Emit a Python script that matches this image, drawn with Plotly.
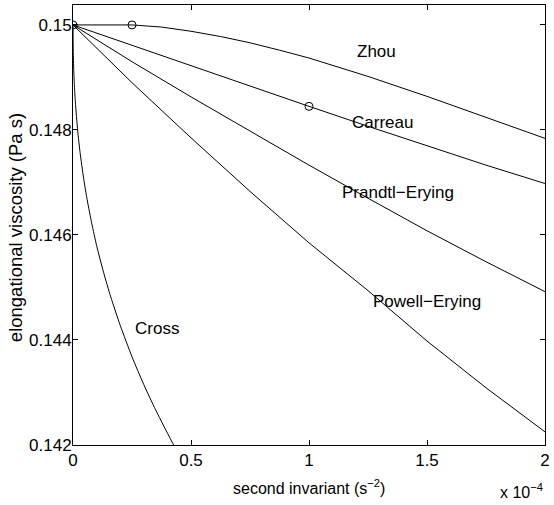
import plotly.graph_objects as go

# Second invariant, in units of 1e-4 s^-2 (axis carries the "x 10^-4" multiplier)
invariant = [0, 0.25, 0.5, 0.75, 1.0, 1.25, 1.5, 1.75, 2.0]

# Elongational viscosity (Pa s) for each model
zhou_invariant = [0, 0.25, 0.375, 0.5, 0.625, 0.75, 0.875, 1.0, 1.25, 1.5, 1.75, 2.0]
zhou = [0.15, 0.15, 0.14996, 0.14988, 0.14978, 0.14966, 0.14952, 0.14937,
        0.14902, 0.14864, 0.14824, 0.14784]
carreau = [0.15, 0.14961, 0.14922, 0.14883, 0.14845, 0.14807, 0.14770, 0.14733, 0.14698]
prandtl_erying = [0.15, 0.14930, 0.14863, 0.14798, 0.14733, 0.14670, 0.14608, 0.14549, 0.14492]
powell_erying = [0.15, 0.14890, 0.14785, 0.14683, 0.14585, 0.14494, 0.14398, 0.14309, 0.14225]

cross_invariant = [0, 0.001, 0.003, 0.006, 0.01, 0.02, 0.03, 0.045, 0.06, 0.08,
                   0.1, 0.13, 0.16, 0.2, 0.25, 0.3, 0.35, 0.43, 0.5]
cross = [0.15, 0.14949, 0.14915, 0.14884, 0.14853, 0.14798, 0.14757, 0.14708,
         0.14667, 0.14621, 0.14580, 0.14528, 0.14482, 0.14428, 0.14368, 0.14315,
         0.14267, 0.14197, 0.14142]

# Highlighted points
marker_invariant = [0, 0.25, 1.0]
marker_viscosity = [0.15, 0.15, 0.14845]

# Curve labels
label_text = ["Zhou", "Carreau", "Prandtl\u2212Erying", "Powell\u2212Erying", "Cross"]
label_x = [1.288, 1.313, 1.376, 1.498, 0.356]
label_y = [0.14949, 0.14814, 0.14681, 0.14473, 0.14422]

x_ticks = [0, 0.5, 1, 1.5, 2]
x_ticktext = ["0", "0.5", "1", "1.5", "2"]
y_ticks = [0.142, 0.144, 0.146, 0.148, 0.15]
y_ticktext = ["0.142", "0.144", "0.146", "0.148", "0.15"]

FONT = "Liberation Sans, Arial, Helvetica, sans-serif"
line_style = dict(color="black", width=1)

fig = go.Figure()
fig.add_trace(go.Scatter(x=zhou_invariant, y=zhou, mode="lines", line=line_style,
                         showlegend=False, hoverinfo="skip"))
for ys in (carreau, prandtl_erying, powell_erying):
    fig.add_trace(go.Scatter(x=invariant, y=ys, mode="lines", line=line_style,
                             showlegend=False, hoverinfo="skip"))
fig.add_trace(go.Scatter(x=cross_invariant, y=cross, mode="lines",
                         line=dict(color="black", width=1, shape="spline", smoothing=0.6),
                         showlegend=False, hoverinfo="skip"))
fig.add_trace(go.Scatter(x=marker_invariant, y=marker_viscosity, mode="markers",
                         marker=dict(symbol="circle-open", size=8, color="black",
                                     line=dict(width=1)),
                         showlegend=False, hoverinfo="skip"))

for t, x, y in zip(label_text, label_x, label_y):
    fig.add_annotation(x=x, y=y, text=t, showarrow=False,
                       font=dict(family=FONT, size=17, color="black"))

# Axis titles and exponent
fig.add_annotation(xref="paper", yref="paper", x=0.5, y=-0.095,
                   text="second invariant (s<sup>\u22122</sup>)", showarrow=False,
                   xanchor="center", yanchor="middle",
                   font=dict(family=FONT, size=16, color="black"))
fig.add_annotation(xref="paper", yref="paper", x=-0.123, y=0.495,
                   text="elongational viscosity (Pa s)", showarrow=False, textangle=-90,
                   xanchor="center", yanchor="middle",
                   font=dict(family=FONT, size=18.5, color="black"))
fig.add_annotation(xref="paper", yref="paper", x=1.0, y=-0.105,
                   text="x 10<sup>\u22124</sup>", showarrow=False,
                   xanchor="right", yanchor="middle",
                   font=dict(family=FONT, size=16, color="black"))

axis_common = dict(showline=True, linecolor="black", linewidth=1, mirror="ticks",
                   ticks="inside", ticklen=5, tickcolor="black", showgrid=False,
                   zeroline=False, ticklabeloverflow="allow",
                   tickfont=dict(family=FONT, size=17, color="black"))

fig.update_xaxes(range=[0, 2], tickvals=x_ticks, ticktext=x_ticktext, **axis_common)
fig.update_yaxes(range=[0.142, 0.15038], tickvals=y_ticks, ticktext=y_ticktext,
                 ticklabelstandoff=-3, **axis_common)

fig.update_layout(width=554, height=505, margin=dict(l=73, r=4, t=5, b=60),
                  paper_bgcolor="white", plot_bgcolor="white")

fig.write_html("out.html")
